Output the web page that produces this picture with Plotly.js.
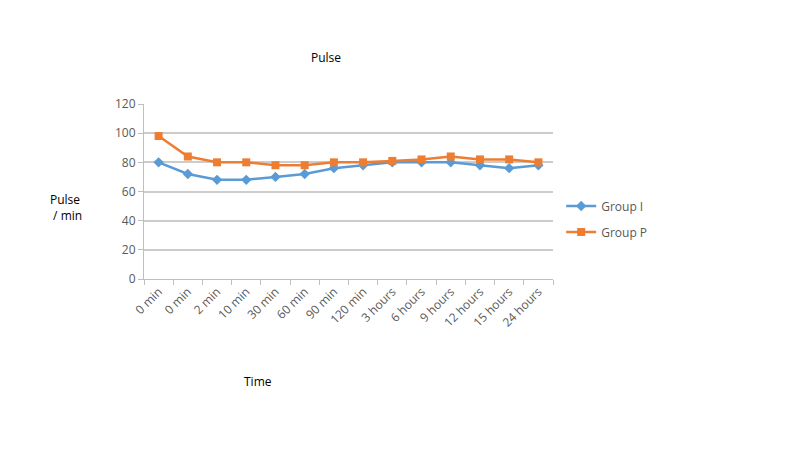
<!DOCTYPE html>
<html>
<head>
<meta charset="utf-8">
<script src="https://cdn.plot.ly/plotly-3.0.1.min.js"></script>
<style>
  html, body { margin: 0; padding: 0; background: #fff; }
  #chart { width: 800px; height: 450px; }
</style>
</head>
<body>
<div id="chart"></div>
<script>
// time points (the first label really does appear twice)
const timeLabels = ['0 min', '0 min', '2 min', '10 min', '30 min', '60 min', '90 min',
  '120 min', '3 hours', '6 hours', '9 hours', '12 hours', '15 hours', '24 hours'];
const groupI = [80, 72, 68, 68, 70, 72, 76, 78, 80, 80, 80, 78, 76, 78];
const groupP = [98, 84, 80, 80, 78, 78, 80, 80, 81, 82, 84, 82, 82, 80];
const yTicks = [0, 20, 40, 60, 80, 100, 120];

const xIdx = timeLabels.map((_, i) => i);
const boundaries = [];
for (let i = 0; i <= timeLabels.length; i++) boundaries.push(i - 0.5);

const font = 'Open Sans, Liberation Sans, sans-serif';
const grey = '#595959';

var traceI = {
  x: xIdx, y: groupI,
  name: 'Group I', legendgroup: 'i',
  type: 'scatter', mode: 'lines+markers',
  line: {color: '#5B9BD5', width: 2.5},
  marker: {symbol: 'diamond', size: 8, color: '#5B9BD5'}
};

var traceP = {
  x: xIdx, y: groupP,
  name: 'Group P', legendgroup: 'p',
  type: 'scatter', mode: 'lines+markers',
  line: {color: '#ED7D31', width: 2.5},
  marker: {symbol: 'square', size: 8, color: '#ED7D31'}
};

var layout = {
  width: 800, height: 450,
  margin: {l: 144, r: 247, t: 104, b: 171},
  paper_bgcolor: '#fff', plot_bgcolor: '#fff',
  font: {family: font, size: 12, color: grey},
  title: {text: 'Pulse', font: {family: font, size: 12, color: '#000'}, x: 326 / 800, xanchor: 'center', y: 1 - 58 / 450, yanchor: 'middle'},
  showlegend: true,
  legend: {x: 1.02, xanchor: 'left', y: 0.50, yanchor: 'top', bgcolor: 'rgba(0,0,0,0)',
    font: {family: font, size: 12, color: grey}, tracegroupgap: 7, itemwidth: 30},
  xaxis: {
    range: [-0.5, timeLabels.length - 0.5],
    tickvals: xIdx, ticktext: timeLabels,
    tickangle: -45, ticks: '', showgrid: false, zeroline: false,
    showline: true, linecolor: '#bfbfbf', linewidth: 1,
    tickfont: {family: font, size: 12, color: grey},
    minor: {tickvals: boundaries, ticks: 'outside', ticklen: 5, tickcolor: '#bfbfbf', showgrid: false}
  },
  yaxis: {
    range: [0, 120], tickvals: yTicks,
    showgrid: true, gridcolor: '#cccccc', gridwidth: 1.5,
    zeroline: false, showline: true, linecolor: '#bfbfbf', linewidth: 1,
    ticks: 'outside', ticklen: 5, tickcolor: '#bfbfbf',
    tickfont: {family: font, size: 12, color: grey}
  },
  annotations: [
    {text: 'Pulse<br> / min', xref: 'paper', yref: 'paper', x: -0.19, y: 0.41,
      xanchor: 'center', yanchor: 'middle', showarrow: false, align: 'left',
      font: {family: font, size: 12, color: '#000'}},
    {text: 'Time', xref: 'paper', yref: 'paper', x: (258 - 144) / 409, y: -(381 - 279) / 175,
      xanchor: 'center', yanchor: 'middle', showarrow: false,
      font: {family: font, size: 12, color: '#000'}}
  ]
};

Plotly.newPlot('chart', [traceI, traceP], layout, {displayModeBar: false});
</script>
</body>
</html>
